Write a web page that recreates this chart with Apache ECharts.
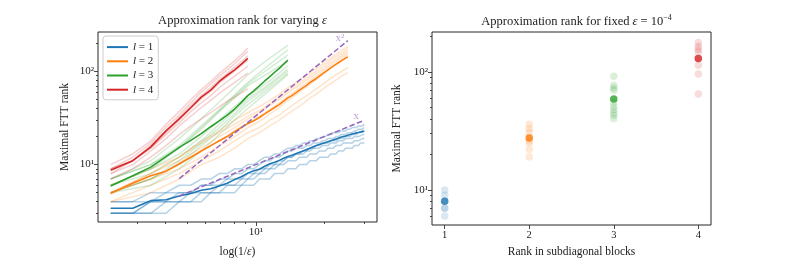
<!DOCTYPE html>
<html><head><meta charset="utf-8">
<script src="https://cdn.jsdelivr.net/npm/echarts@6/dist/echarts.min.js"></script>
<style>html,body{margin:0;padding:0;background:#fff}#c{width:789px;height:263px}</style>
</head><body><div id="c"></div>
<script>
// ---- data ----
// eps = 10^(-e); x = log(1/eps)
const epsExponent = [1,1.25,1.5,1.75,2,2.25,2.5,2.75,3,3.25,3.5,3.75,4,4.25,4.5,4.75,5,5.25,5.5,5.75,6,6.25,6.5,6.75,7,7.25,7.5,7.75,8,8.25,8.5,8.75,9,9.25,9.5,9.75,10,10.25,10.5,10.75,11,11.25,11.5,11.75,12,12.25,12.5,12.75,13];

const meanL1 = [3.4,3.4,4.1,4.2,4.6,4.9,5.3,5.5,5.9,6.3,6.9,7.4,8.1,8.6,8.9,9.6,10.2,10.6,11.1,11.7,12.2,12.6,13.1,13.6,14.0,14.5,15.0,15.5,16.0,16.4,16.8,17.2,17.6,18.0,18.4,18.8,19.2,19.6,20.0,20.3,20.7,21.0,21.3,21.6,21.9,22.1,22.4,22.6,22.8];
const meanL2 = [4.9,6.3,7.6,8.5,10.2,12,14,16,18,20,22.5,25,27.5,29.5,32,35,38,41,44,48,52,55,59,63,67,71,76,80,84,89,94,99,104,109,114,119,124,129,134,139,143];
const meanL3 = [5.9,7.6,9.4,12.2,15.3,18.2,21.5,25.5,29.5,34,39.5,46.5,55,62,70,79,88,98,108,120,132];
const meanL4 = [8.7,11,15.5,23,31,41,53,63,78,91,104,120,138];

// l = 1 samples (every grid point)
const samplesL1 = [
 [3,3,3,4,4,4,4,5,5,5,5,6,6,6,7,7,7,8,8,8,9,9,9,10,10,10,11,11,11,12,12,12,12,13,13,13,14,14,14,15,15,15,15,16,16,16,17,17,17],
 [3,3,4,4,4,5,5,5,6,6,6,7,7,7,8,8,9,9,10,10,11,11,11,12,12,12,13,13,13,14,14,14,15,15,15,16,16,16,17,17,17,17,17,18,18,18,18,19,19],
 [3,3,3,3,4,4,5,5,5,6,6,6,7,8,8,9,9,10,10,11,12,12,13,13,13,14,14,15,15,15,16,16,16,17,17,17,18,18,18,19,19,19,19,20,20,20,20,21,21],
 [4,4,4,5,5,5,6,6,6,7,7,7,8,8,9,9,10,10,11,11,12,12,13,13,14,14,15,15,16,16,17,17,17,18,18,18,19,19,19,20,20,20,21,21,21,22,22,23,23],
 [3,3,4,4,5,5,6,6,7,7,8,8,9,9,10,11,11,12,12,13,14,14,15,15,15,16,16,17,17,17,18,18,19,19,19,20,20,21,21,21,22,22,22,23,23,24,24,24,25],
 [4,4,5,5,6,6,7,7,8,8,9,9,10,10,11,12,12,13,13,14,15,15,16,16,17,17,18,18,19,19,20,20,21,21,22,22,22,23,23,23,24,24,25,25,25,26,26,26,27]
];
// l = 2 samples (every second grid point)
const samplesL2 = [
 [4,5,7,10,12,15,19,22,26,30,35,40,45,52,57,64,71,77,84,91,97],
 [4,6,8,11,14,18,22,25,30,34,40,46,52,58,65,72,80,88,96,103,110],
 [5,7,9,12,16,20,25,29,35,41,49,56,64,73,82,93,104,115,126,138,150],
 [5,7,10,14,18,23,28,33,39,46,54,62,71,80,89,100,111,122,134,146,158],
 [5,8,11,15,20,25,31,36,43,50,59,67,76,86,95,106,118,129,141,153,165],
 [6,9,12,17,22,27,33,38,45,53,62,71,80,91,101,113,125,138,150,162,175],
 [5,8,12,18,23,30,36,42,49,57,67,76,86,97,108,120,133,146,159,172,185]
];
// l = 3 samples (every second grid point)
const samplesL3 = [
 [7,11,19,31,47,67,92,115,139,164,190],
 [7,10,16,26,39,56,76,97,120,144,170],
 [6,9,15,25,38,54,73,91,109,129,150],
 [7,10,15,24,37,52,70,84,98,113,128],
 [6,9,13,20,30,42,55,66,79,96,115],
 [6,8,12,18,27,38,51,62,74,89,105],
 [5,7,11,17,25,35,48,59,71,85,100],
 [5,7,10,16,23,33,44,55,67,80,95],
 [5,6,9,14,21,30,40,51,63,77,93]
];
// l = 4 samples (every grid point)
const samplesL4 = [
 [10,13,18,27,37,50,64,78,95,112,130,152,178],
 [9,12,17,25,34,46,60,73,89,104,121,142,164],
 [9,11,16,23,32,43,55,67,82,96,111,128,147],
 [8,11,15,22,30,40,51,61,75,88,101,116,132],
 [9,11,15,21,28,37,46,55,67,78,89,101,114],
 [8,10,14,19,26,33,41,49,58,67,76,86,96],
 [7,9,12,16,21,26,31,36,42,48,53,59,65]
];
// guide lines  (x, y)
const guideX2 = [[4.605,7.07],[25.33,213.9]];
const guideX  = [[4.605,4.605],[29.93,29.93]];

// right panel: eps = 1e-4
const blockRanks = [1,2,3,4];
const fixedMean = [8,27.5,59,130];
const fixedSamples = [
 [6,7,7,8,9,10],
 [19,22,25,26,28,31,33,36],
 [40,43,45,48,51,55,70,73,77,92],
 [65,96,114,130,147,155,164,178]
];
const xMajor = [10], xMinor = [3,4,5,6,7,8,9,20,30];
const yMajor = [10,100], yMinorL = [3,4,5,6,7,8,9,20,30,40,50,60,70,80,90,200], yMinorR = [6,7,8,9,20,30,40,50,60,70,80,90,200];
const supDigits = {1:'¹',2:'²'};

// ---- chart ----
const colors = ['#1f77b4','#ff7f0e','#2ca02c','#d62728'];
const purple = '#9467bd';
const xVals = epsExponent.map(e => e * Math.LN10);
const FONT = 'Liberation Serif';
const supFmt = v => '10' + supDigits[Math.round(Math.log10(v))];
const tickLine = {color:'#333',width:0.9};

function logAxis(grid, min, max, major, minor, isX, name, gap) {
  const base = {type:'log', logBase:10, gridIndex:grid, min, max, splitLine:{show:false}, axisLine:{show:false},
    position: isX ? 'bottom' : 'left', offset:0};
  return [
    Object.assign({}, base, {
      axisTick:{show:true,length:4,customValues:major,lineStyle:tickLine},
      axisLabel:{customValues:major,formatter:supFmt,margin:isX?5:4,fontFamily:FONT,fontSize:11,color:'#222'},
      name, nameLocation:'middle', nameGap:gap,
      nameTextStyle:{fontFamily:FONT,fontSize:11.5,color:'#222',rich:{i:{fontFamily:FONT,fontStyle:'italic',fontSize:11.5,color:'#222'}}}
    }),
    Object.assign({}, base, {
      axisTick:{show:true,length:2,customValues:minor,lineStyle:tickLine},
      axisLabel:{show:false}
    })
  ];
}

const xAxes = [
  ...logAxis(0, 2.026, 34.02, xMajor, xMinor, true, 'log(1/{i|ε})', 24),
  {type:'value', gridIndex:1, min:0.85, max:4.15, position:'bottom', splitLine:{show:false}, axisLine:{show:false},
   axisTick:{show:true,length:4,customValues:blockRanks,lineStyle:tickLine},
   axisLabel:{customValues:blockRanks,fontFamily:FONT,fontSize:10.5,color:'#222',margin:5},
   name:'Rank in subdiagonal blocks', nameLocation:'middle', nameGap:21,
   nameTextStyle:{fontFamily:FONT,fontSize:11.5,color:'#222'}}
];
const yAxes = [
  ...logAxis(0, 2.42, 265, yMajor, yMinorL, false, 'Maximal FTT rank', 27),
  ...logAxis(1, 5.04, 218, yMajor, yMinorR, false, 'Maximal FTT rank', 29)
];

const series = [];
const faintOpacity = [0.33,0.22,0.2,0.22];
function addFaint(samples, li, step) {
  samples.forEach(s => series.push({
    type:'line', xAxisIndex:0, yAxisIndex:0, silent:true, showSymbol:false, symbol:'none', z:1,
    data: s.map((v,i)=>[xVals[i*step], v]),
    lineStyle:{color:colors[li],width:1.5,opacity:faintOpacity[li]}
  }));
}
addFaint(samplesL1,0,1); addFaint(samplesL2,1,2); addFaint(samplesL3,2,2); addFaint(samplesL4,3,1);
[meanL1,meanL2,meanL3,meanL4].forEach((m,li)=>series.push({
  name:'l'+(li+1), type:'line', xAxisIndex:0, yAxisIndex:0, showSymbol:false, symbol:'none', z:3,
  color:colors[li], data:m.map((v,i)=>[xVals[i],v]), lineStyle:{color:colors[li],width:1.6}
}));
[guideX2, guideX].forEach(g=>series.push({
  type:'line', xAxisIndex:0, yAxisIndex:0, showSymbol:false, symbol:'none', z:4, silent:true,
  data:g, lineStyle:{color:purple,width:1.5,type:[5.5,2.5]}
}));
series.push({
  type:'scatter', xAxisIndex:0, yAxisIndex:0, symbolSize:0, z:5, silent:true,
  data:[
    {value:guideX2[1], label:{show:true,formatter:'x²',offset:[-8,-3]}},
    {value:guideX[1], label:{show:true,formatter:'x',offset:[-8,-4]}}
  ],
  label:{position:'inside',fontFamily:FONT,fontSize:11,color:'rgba(148,103,189,0.8)'}
});
fixedSamples.forEach((s,li)=>series.push({
  type:'scatter', xAxisIndex:2, yAxisIndex:2, symbolSize:7.5, z:2, silent:true,
  data:s.map(v=>[blockRanks[li],v]), itemStyle:{color:colors[li],opacity:0.17}
}));
series.push({
  type:'scatter', xAxisIndex:2, yAxisIndex:2, symbolSize:7.5, z:3, silent:true,
  data:fixedMean.map((v,i)=>({value:[blockRanks[i],v],itemStyle:{color:colors[i]}}))
});

const chart = echarts.init(document.getElementById('c'), null, {renderer:'canvas'});
chart.setOption({
  animation:false,
  textStyle:{fontFamily:FONT},
  title:[
    {text:'Approximation rank for varying {i|ε}', left:237.5, top:9, textAlign:'center',
     textStyle:{fontFamily:FONT,fontSize:12.5,fontWeight:'normal',color:'#222',rich:{i:{fontFamily:FONT,fontStyle:'italic',fontSize:12.5,color:'#222'}}}},
    {text:'Approximation rank for fixed {i|ε} = 10{s|−4}', left:571.5, top:9, textAlign:'center',
     textStyle:{fontFamily:FONT,fontSize:12.5,fontWeight:'normal',color:'#222',rich:{i:{fontFamily:FONT,fontStyle:'italic',fontSize:12.5,color:'#222'},s:{fontFamily:FONT,fontSize:8,color:'#222',verticalAlign:'top',padding:[0,0,7,0]}}}}
  ],
  legend:{
    data:['l1','l2','l3','l4'], orient:'vertical', left:103, top:36, icon:'rect', itemWidth:21, itemHeight:2,
    itemGap:2, padding:[5,5,4,4], backgroundColor:'rgba(255,255,255,0.85)', borderColor:'#ccc', borderWidth:1, borderRadius:3,
    formatter: n => '{i|l} = ' + n.slice(1),
    textStyle:{fontFamily:FONT,fontSize:11,color:'#222',lineHeight:12.2,rich:{i:{fontFamily:FONT,fontStyle:'italic',fontSize:11,color:'#222'}}},
    selectedMode:false
  },
  grid:[
    {left:98,top:32,width:279,height:198,show:true,borderColor:'#262626',borderWidth:1,backgroundColor:'transparent'},
    {left:432,top:32,width:279,height:198,show:true,borderColor:'#262626',borderWidth:1,backgroundColor:'transparent'}
  ],
  xAxis:xAxes, yAxis:yAxes, series
});
</script></body></html>
